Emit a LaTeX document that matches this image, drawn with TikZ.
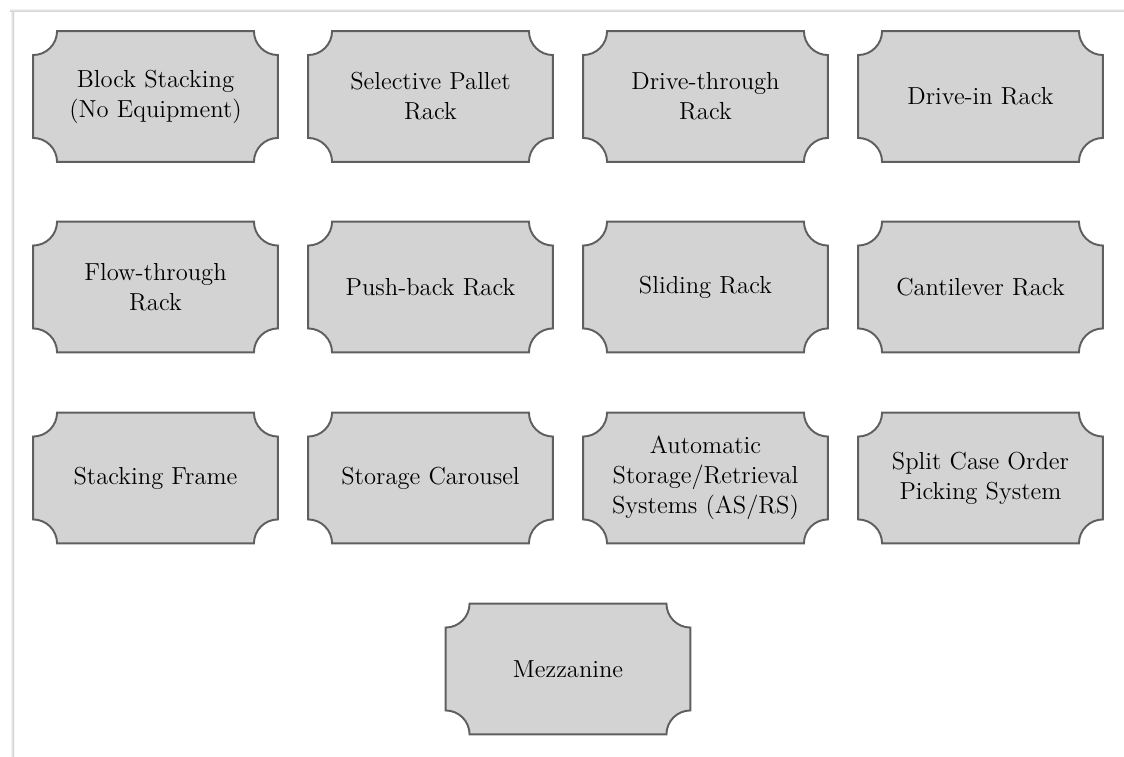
\documentclass[tikz,border=0pt]{standalone}
\usepackage{tikz}
\usetikzlibrary{calc}
\definecolor{boxfill}{HTML}{D3D3D3}
\definecolor{boxline}{HTML}{5F5F5F}

\begin{document}
\begin{tikzpicture}[
    ticket/.style={minimum width=4.94cm, minimum height=2.66cm, text width=4.6cm, align=center,
        font=\fontsize{14}{17}\selectfont, inner sep=0pt,
        path picture={
            \coordinate (sw) at ([shift={(0.6pt,0.6pt)}]path picture bounding box.south west);
            \coordinate (se) at ([shift={(-0.6pt,0.6pt)}]path picture bounding box.south east);
            \coordinate (ne) at ([shift={(-0.6pt,-0.6pt)}]path picture bounding box.north east);
            \coordinate (nw) at ([shift={(0.6pt,-0.6pt)}]path picture bounding box.north west);
            \filldraw[fill=boxfill, draw=boxline, line width=1.1pt]
                ($(sw)+(0.48,0)$) -- ($(se)+(-0.48,0)$) arc[start angle=180, end angle=90, radius=0.48]
                -- ($(ne)+(0,-0.48)$) arc[start angle=270, end angle=180, radius=0.48]
                -- ($(nw)+(0.48,0)$) arc[start angle=0, end angle=-90, radius=0.48]
                -- ($(sw)+(0,0.48)$) arc[start angle=90, end angle=0, radius=0.48] -- cycle;
        }}
]
\useasboundingbox (0,0) rectangle (22.48,15.12);

% Page shadow
\shade[left color=white, right color=black!22] (0.2,0) rectangle (0.28,14.92);
\shade[top color=white, bottom color=black!22] (0.2,14.88) rectangle (22.48,14.96);

% Row 1
\node[ticket] (blockstack) at (3.11, 13.19) {Block Stacking\\(No Equipment)};
\node[ticket] (selective) at (8.61, 13.19) {Selective Pallet\\Rack};
\node[ticket] (drivethru) at (14.11, 13.19) {Drive-through\\Rack};
\node[ticket] (drivein) at (19.61, 13.19) {Drive-in Rack};

% Row 2
\node[ticket] (flowthru) at (3.11, 9.38) {Flow-through\\Rack};
\node[ticket] (pushback) at (8.61, 9.38) {Push-back Rack};
\node[ticket] (sliding) at (14.11, 9.38) {Sliding Rack};
\node[ticket] (cantilever) at (19.61, 9.38) {Cantilever Rack};

% Row 3
\node[ticket] (stackframe) at (3.11, 5.56) {Stacking Frame};
\node[ticket] (carousel) at (8.61, 5.56) {Storage Carousel};
\node[ticket] (asrs) at (14.11, 5.56) {Automatic\\Storage/Retrieval\\Systems (AS/RS)};
\node[ticket] (splitcase) at (19.61, 5.56) {Split Case Order\\Picking System};

% Row 4
\node[ticket] (mezzanine) at (11.36, 1.74) {Mezzanine};

\end{tikzpicture}
\end{document}
